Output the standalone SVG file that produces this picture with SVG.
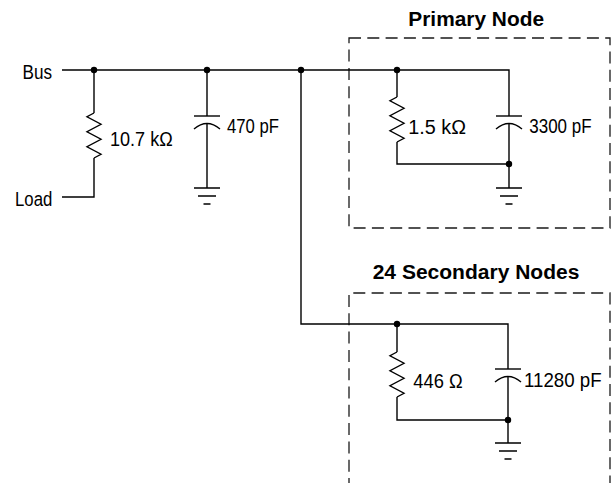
<svg xmlns="http://www.w3.org/2000/svg" width="614" height="483" viewBox="0 0 614 483">
<style>
.w{fill:none;stroke:#000;stroke-width:1.4;stroke-linejoin:miter}
.box{fill:none;stroke:#1a1a1a;stroke-width:1.3;stroke-dasharray:12 6.3}
.dot{fill:#000}
.t{font-family:"Liberation Sans",Arial,sans-serif;font-size:19.3px;fill:#000;stroke:none}
.h{font-family:"Liberation Sans",Arial,sans-serif;font-size:19.5px;font-weight:bold;fill:#000}
</style>
<defs>
<path id="zig" d="M0,0 l-7,3.75 l14,7.5 l-14,7.5 l14,7.5 l-14,7.5 l14,7.5 l-7,3.75"/>
<g id="cap"><path d="M-13,0 H13"/><path d="M-13,13 Q0,2 13,13"/></g>
<g id="gnd"><path d="M-13,0 H13 M-9,8 H9 M-3.5,16 H3.5"/></g>
</defs>
<g id="boxes">
<rect id="primary-box" class="box" x="349" y="38" width="261" height="190"/>
<path id="secondary-box" class="box" d="M349,490 V293 H610 V490"/>
</g>
<g id="connectors" class="w">
<path d="M62,70 H509 V116"/>
<path d="M62,197 H94 V158"/>
<path d="M94,70 V113"/>
<path d="M207,70 V116 M207,123 V188"/>
<path d="M301,70 V324 H508 V369 M508,376 V443"/>
<path d="M397,70 V97 M397,142 V164 H509 M509,123 V188"/>
<path d="M397,324 V352 M397,397 V420 H508"/>
</g>
<g id="bus-label"><text class="t" x="22.5" y="78.5" textLength="29.5" lengthAdjust="spacingAndGlyphs">Bus</text></g>
<g id="load-label"><text class="t" x="15" y="206" textLength="37.3" lengthAdjust="spacingAndGlyphs">Load</text></g>
<g id="r-load"><use class="w" href="#zig" x="94" y="113"/><text class="t" x="110" y="145.5" textLength="62.7" lengthAdjust="spacingAndGlyphs">10.7 kΩ</text></g>
<g id="c-bus"><use class="w" href="#cap" x="207" y="116"/><use class="w" href="#gnd" x="207" y="188"/><text class="t" x="227" y="132.5" textLength="52" lengthAdjust="spacingAndGlyphs">470 pF</text></g>
<g id="primary-node">
<text class="h" x="408.3" y="25.5" textLength="135.7" lengthAdjust="spacingAndGlyphs">Primary Node</text>
<g class="w"><use href="#zig" x="397" y="97"/><use href="#cap" x="509" y="116"/><use href="#gnd" x="509" y="188"/></g>
<text class="t" x="408.3" y="134" textLength="57.7" lengthAdjust="spacingAndGlyphs">1.5 kΩ</text>
<text class="t" x="529.3" y="132.5" textLength="62.3" lengthAdjust="spacingAndGlyphs">3300 pF</text>
</g>
<g id="secondary-nodes">
<text class="h" x="372.7" y="279" textLength="206.7" lengthAdjust="spacingAndGlyphs">24 Secondary Nodes</text>
<g class="w"><use href="#zig" x="397" y="352"/><use href="#cap" x="508" y="369"/><use href="#gnd" x="508" y="443"/></g>
<text class="t" x="413.3" y="388" textLength="49.3" lengthAdjust="spacingAndGlyphs">446 Ω</text>
<text class="t" x="524" y="387" textLength="77.6" lengthAdjust="spacingAndGlyphs">11280 pF</text>
</g>
<g id="junctions">
<circle class="dot" cx="94" cy="70" r="3.2"/>
<circle class="dot" cx="207" cy="70" r="3.2"/>
<circle class="dot" cx="301" cy="70" r="3.2"/>
<circle class="dot" cx="397" cy="70" r="3.2"/>
<circle class="dot" cx="509" cy="164" r="3.2"/>
<circle class="dot" cx="397" cy="324" r="3.2"/>
<circle class="dot" cx="508" cy="420" r="3.2"/>
</g>
</svg>
